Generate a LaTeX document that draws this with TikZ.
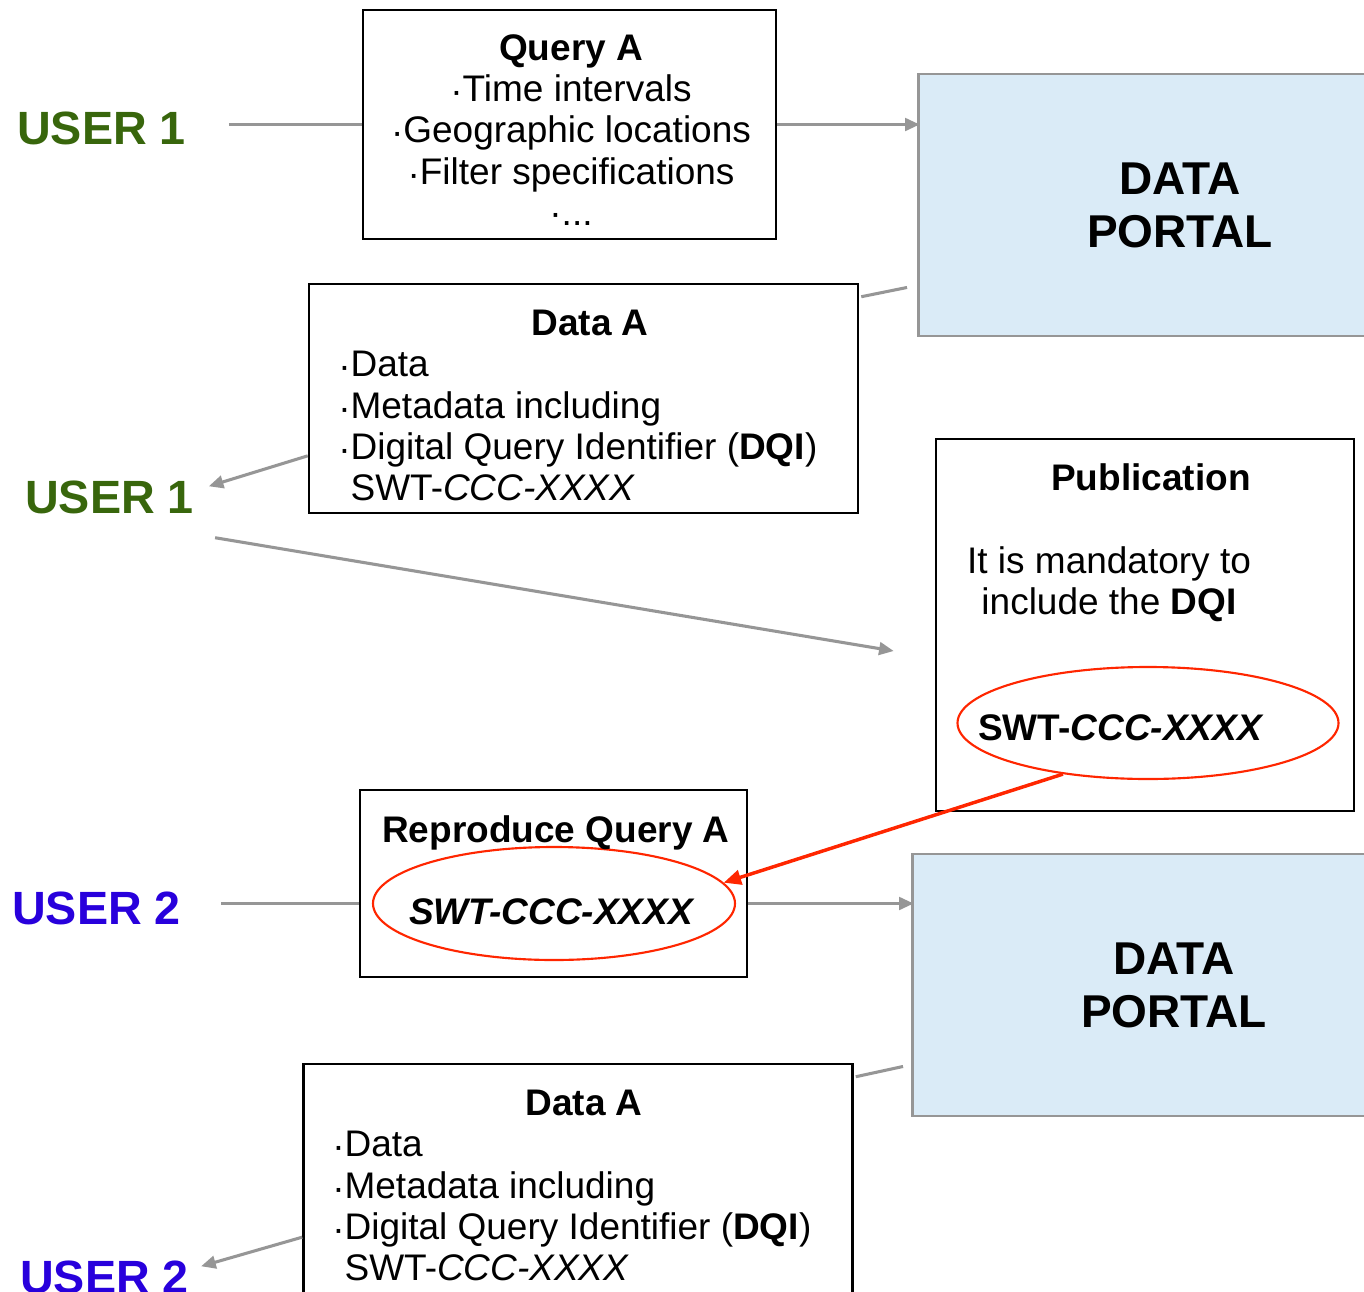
\documentclass[tikz,border=0pt]{standalone}
\usepackage{fontspec}
\setmainfont{Liberation Sans}
\usetikzlibrary{shapes.geometric,arrows.meta,positioning}

\definecolor{usergreen}{RGB}{56,102,12}
\definecolor{userblue}{RGB}{40,0,220}
\definecolor{linkgray}{RGB}{150,150,150}
\definecolor{portalfill}{RGB}{218,235,247}
\definecolor{dqired}{RGB}{255,38,0}
\newcommand{\listdot}{\raisebox{-0.06em}{·}}

\begin{document}
\begin{tikzpicture}[x=0.75pt,y=0.75pt,yscale=-1,xscale=1,
  box/.style={draw=black,line width=1.9pt,inner sep=0pt},
  portalbox/.style={draw=linkgray,fill=portalfill,line width=2.2pt,inner sep=0pt,align=center,
    font=\fontsize{34.5}{39.75}\selectfont\bfseries},
  dqiring/.style={draw=dqired,ellipse,line width=1.6pt,inner sep=0pt},
  link/.style={draw=linkgray,line width=2.3pt},
  linkarrow/.style={link,-{Triangle[length=11pt,width=9.5pt]}},
  redarrow/.style={draw=dqired,line width=2.6pt,-{Triangle[length=13pt,width=11pt]}},
  bodytext/.style={inner sep=0pt,font=\fontsize{27.75}{31}\selectfont},
  titletext/.style={inner sep=0pt,font=\fontsize{27.75}{31}\selectfont\bfseries},
  userlabel/.style={inner sep=0pt,font=\fontsize{35}{40}\selectfont\bfseries}]
%set diagram size to the reference, 1364 x 1292
\useasboundingbox (0,0) rectangle (1364,1292);
\clip (0,0) rectangle (1364,1292);

%Shape: Rectangle [Query A]
\node [box,minimum width=309.75pt,minimum height=171.75pt] (qa) at (569.5,124.5) {};
%Shape: Rectangle [Data portal 1]
\node [portalbox,minimum width=392.25pt,minimum height=196.5pt] (dp1) at (1180,205) {DATA\\PORTAL};
%Shape: Rectangle [Data A, user 1]
\node [box,minimum width=411.75pt,minimum height=171.75pt] (da1) at (583.5,398.5) {};
%Shape: Rectangle [Publication]
\node [box,minimum width=313.5pt,minimum height=279pt] (pub) at (1145,625) {};
%Shape: Ellipse [DQI in publication]
\node [dqiring,minimum width=285.75pt,minimum height=84pt] (pubring) at (1148,723) {};
%Shape: Rectangle [Reproduce Query A]
\node [box,minimum width=290.25pt,minimum height=140.25pt] (rq) at (553.5,883.5) {};
%Shape: Ellipse [DQI in reproduce]
\node [dqiring,minimum width=271.5pt,minimum height=84.75pt] (rqring) at (554,903.5) {};
%Shape: Rectangle [Data portal 2]
\node [portalbox,minimum width=392.25pt,minimum height=196.5pt] (dp2) at (1174,985) {DATA\\PORTAL};
%Shape: Rectangle [Data A, user 2]
\node [box,minimum width=411.75pt,minimum height=171.75pt] (da2) at (578,1178.5) {};

% Text Node
\node [userlabel,text=usergreen,anchor=base west] (user1a) at (17,144) {USER 1};
% Text Node
\node [userlabel,text=usergreen,anchor=base west] (user1b) at (25,513) {USER 1};
% Text Node
\node [userlabel,text=userblue,anchor=base west] (user2a) at (12,924) {USER 2};
% Text Node
\node [userlabel,text=userblue,anchor=base west] (user2b) at (20,1293) {USER 2};

% Text Node
\node [bodytext,align=center,anchor=north] (qatext) at (571,34)
  {\textbf{Query A}\\\listdot Time intervals\\\listdot Geographic locations\\\listdot Filter specifications\\·...};
% Text Node
\node [titletext,anchor=base] (da1title) at (590,335) {Data A};
\node [bodytext,align=left,anchor=north west] (da1text) at (338,351)
  {\listdot Data\\\listdot Metadata including\\\listdot Digital Query Identifier (\textbf{DQI})\\\hphantom{·}SWT-\textit{CCC-XXXX}};
% Text Node
\node [titletext,anchor=base] (pubtitle) at (1151,490) {Publication};
\node [bodytext,align=center,anchor=north] (pubtext) at (1109,546)
  {It is mandatory to\\include the \textbf{DQI}};
\node [titletext,anchor=base] (pubdqi) at (1121,740) {SWT-\textit{CCC-XXXX}};
% Text Node
\node [titletext,anchor=base] (rqtitle) at (556,842) {Reproduce Query A};
\node [titletext,anchor=base] (rqdqi) at (552,924) {\textit{SWT-CCC-XXXX}};
% Text Node
\node [titletext,anchor=base] (da2title) at (584,1115) {Data A};
\node [bodytext,align=left,anchor=north west] (da2text) at (332,1131)
  {\listdot Data\\\listdot Metadata including\\\listdot Digital Query Identifier (\textbf{DQI})\\\hphantom{·}SWT-\textit{CCC-XXXX}};

%Straight Lines [user 1 to query]
\draw [link,shorten <=32pt] (user1a.east |- qa.west) -- (qa.west);
\draw [linkarrow] (qa.east) -- ([xshift=2pt]qa.east -| dp1.west);
%Straight Lines [portal to data]
\draw [link] ([xshift=-7.5pt,yshift=-37.5pt]dp1.south west) -- ([xshift=1.5pt,yshift=10.5pt]da1.north east);
\draw [linkarrow] ([yshift=43pt]da1.west) -- ([xshift=11pt,yshift=-8pt]user1b.east);
%Straight Lines [user 1 to publication]
\draw [linkarrow] ([xshift=15.75pt,yshift=18pt]user1b.south east) -- ([xshift=-30.75pt,yshift=19.5pt]pub.west);
%Straight Lines [DQI taken over]
\draw [redarrow] (pubring.-149) -- (rqring.7);
%Straight Lines [user 2 to reproduce]
\draw [link,shorten <=30pt] (user2a.east |- rqring.center) -- (rqring.center -| rq.west);
\draw [linkarrow] (rqring.center -| rq.east) -- ([xshift=2pt]rqring.center -| dp2.west);
%Straight Lines [portal to data]
\draw [link] ([xshift=-6pt,yshift=-38.25pt]dp2.south west) -- ([xshift=1.5pt,yshift=10.5pt]da2.north east);
\draw [linkarrow] ([yshift=44pt]da2.west) -- ([xshift=9pt,yshift=-8pt]user2b.east);

\end{tikzpicture}
\end{document}
